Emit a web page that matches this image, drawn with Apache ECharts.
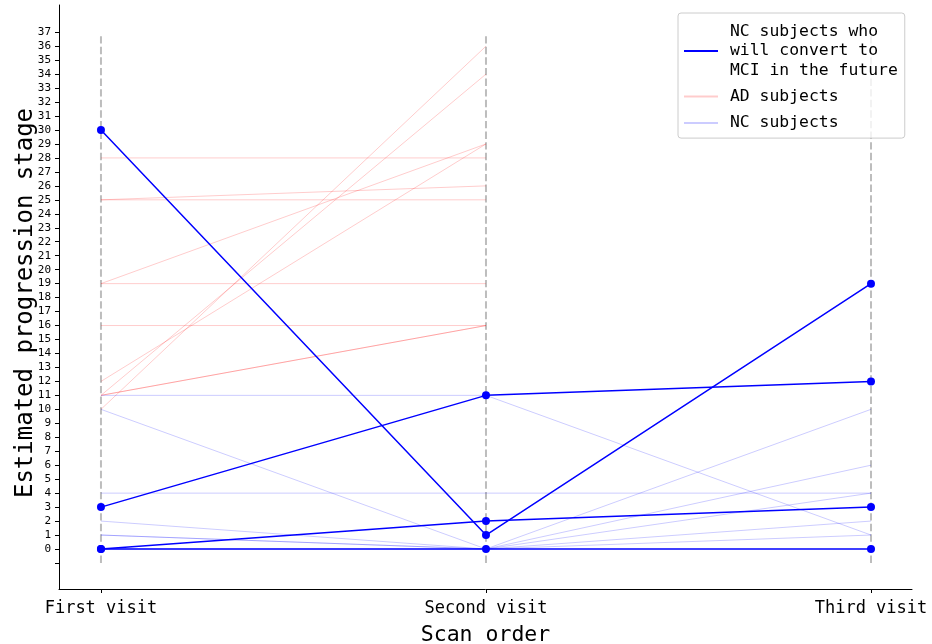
<!DOCTYPE html>
<html>
<head>
<meta charset="utf-8">
<script src="https://cdn.jsdelivr.net/npm/echarts@6/dist/echarts.min.js"></script>
<style>html,body{margin:0;padding:0;background:#fff}#c{width:932px;height:644px}</style>
</head>
<body>
<div id="c"></div>
<script>
// ---- data ----
const visitLabels = ['First visit', 'Second visit', 'Third visit'];
const yTickValues = [-1, 0, 1, 2, 3, 4, 5, 6, 7, 8, 9, 10, 11, 12, 13, 14, 15, 16, 17, 18, 19, 20,
  21, 22, 23, 24, 25, 26, 27, 28, 29, 30, 31, 32, 33, 34, 35, 36, 37];
const yLabelValues = [0, 1, 2, 3, 4, 5, 6, 7, 8, 9, 10, 11, 12, 13, 14, 15, 16, 17, 18, 19, 20,
  21, 22, 23, 24, 25, 26, 27, 28, 29, 30, 31, 32, 33, 34, 35, 36, 37];
// AD subjects (two visits)
const adSubjects = [
  [28, 28], [25, 25], [25, 26], [19, 19], [19, 29], [16, 16],
  [11, 16], [11, 16], [12, 29], [11, 34], [10, 36]
];
// NC subjects
const ncSubjects = [
  [11, 11, 1], [4, 4, 4], [10, 0, 10], [2, 0, 6], [1, 0, 4], [1, 0, 2], [0, 0, 1]
];
// NC subjects who will convert to MCI
const converters = [
  [30, 1, 19], [3, 11, 12], [0, 2, 3], [0, 0, 0]
];
const guideRange = [-1, 36.8];

const convName = 'NC subjects who will convert to MCI in the future';
const adName = 'AD subjects';
const ncName = 'NC subjects';
const FONT = 'DejaVu Sans Mono';

const toPairs = vals => vals.map((v, i) => [i, v]);
const series = [];
visitLabels.forEach((_, i) => {
  series.push({
    type: 'line', silent: true, symbol: 'none', z: 1,
    data: [[i, guideRange[0]], [i, guideRange[1]]],
    lineStyle: { color: '#bdbdbd', width: 2, type: [7.4, 3.2] }
  });
});
adSubjects.forEach(s => series.push({
  name: adName, type: 'line', symbol: 'none', z: 2, data: toPairs(s),
  itemStyle: { color: 'rgba(255,0,0,0.2)' },
  lineStyle: { color: 'rgba(255,0,0,0.2)', width: 1 }
}));
ncSubjects.forEach(s => series.push({
  name: ncName, type: 'line', symbol: 'none', z: 2, data: toPairs(s),
  itemStyle: { color: 'rgba(0,0,255,0.2)' },
  lineStyle: { color: 'rgba(0,0,255,0.2)', width: 1 }
}));
converters.forEach(s => series.push({
  name: convName, type: 'line', symbol: 'circle', symbolSize: 8, z: 3, data: toPairs(s),
  itemStyle: { color: '#0000ff' },
  lineStyle: { color: '#0000ff', width: 1.5 }
}));

const chart = echarts.init(document.getElementById('c'), null, { renderer: 'canvas' });
chart.setOption({
  animation: false,
  backgroundColor: '#fff',
  grid: { left: 59, right: 20, top: 5, bottom: 55, containLabel: false, outerBoundsMode: 'none' },
  xAxis: {
    type: 'value', min: -0.109, max: 2.1065,
    name: 'Scan order', nameLocation: 'middle', nameGap: 35,
    nameTextStyle: { fontFamily: FONT, fontSize: 21.5, color: '#000' },
    axisLine: { show: true, onZero: false, lineStyle: { color: '#000', width: 1 } },
    axisTick: { show: true, length: 4, lineStyle: { color: '#000' }, customValues: [0, 1, 2] },
    axisLabel: {
      fontFamily: FONT, fontSize: 17, color: '#000', margin: 11,
      customValues: [0, 1, 2], formatter: v => visitLabels[Math.round(v)] || ''
    },
    splitLine: { show: false }
  },
  yAxis: {
    type: 'value', min: -2.864, max: 38.95,
    name: 'Estimated progression stage', nameLocation: 'middle', nameGap: 21,
    nameMoveOverlap: false,
    nameTextStyle: { fontFamily: FONT, fontSize: 24, color: '#000', padding: [0, 12, 0, 0] },
    axisLine: { show: true, onZero: false, lineStyle: { color: '#000', width: 1 } },
    axisTick: { show: true, length: 4, lineStyle: { color: '#000' }, customValues: yTickValues },
    axisLabel: { fontFamily: FONT, fontSize: 11, color: '#000', margin: 8, customValues: yLabelValues },
    splitLine: { show: false }
  },
  legend: {
    orient: 'vertical', left: 678, top: 13,
    padding: [8.5, 7, 4.5, 6], itemGap: 5.5,
    itemWidth: 34, itemHeight: 2,
    borderColor: '#cccccc', borderWidth: 1, borderRadius: 3,
    backgroundColor: 'rgba(255,255,255,0.8)',
    data: [
      { name: convName, icon: 'rect', textStyle: { lineHeight: 19.7 } },
      { name: adName, icon: 'rect', textStyle: { lineHeight: 21 } },
      { name: ncName, icon: 'rect', textStyle: { lineHeight: 21 } }
    ],
    formatter: n => n === convName ? 'NC subjects who\nwill convert to\nMCI in the future' : n,
    textStyle: { fontFamily: FONT, fontSize: 16.4, color: '#000', lineHeight: 20, padding: [0, 0, 0, 7] },
    selectedMode: false
  },
  series: series
});
</script>
</body>
</html>
